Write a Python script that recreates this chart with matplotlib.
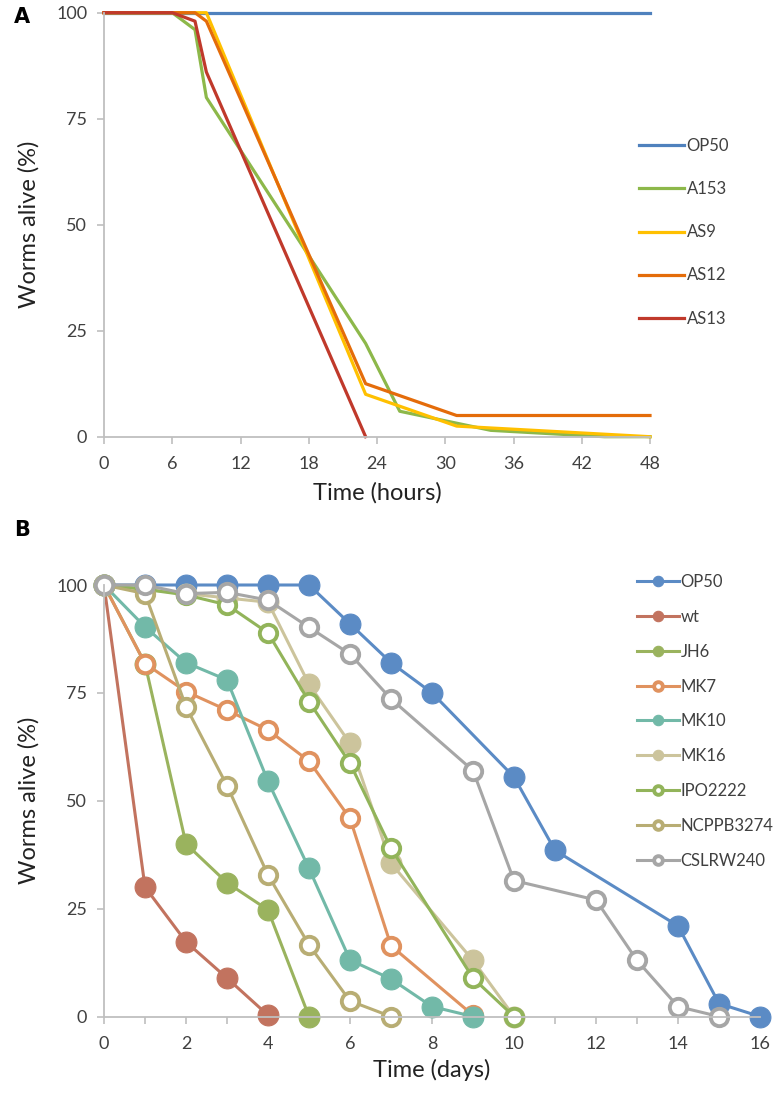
import matplotlib
matplotlib.use("Agg")
import matplotlib.pyplot as plt

plt.rcParams['font.family'] = ['Lato', 'DejaVu Sans']

# ---- panel A data (hours) ----
a_names = ["OP50", "A153", "AS9", "AS12", "AS13"]
a_t = [
    [0, 48],
    [0, 6, 8, 9, 23, 26, 34, 44, 48],
    [0, 8, 9, 23, 31, 48],
    [0, 6, 8, 9, 23, 31, 48],
    [0, 6, 8, 9, 23],
]
a_y = [
    [100, 100],
    [100, 100, 96, 80, 22, 6, 1.5, 0, 0],
    [100, 100, 100, 10, 2.5, 0],
    [100, 100, 100, 98, 12.5, 5, 5],
    [100, 100, 98, 86, 0],
]
a_colors = ["#4F81BD", "#8DB84A", "#FFC000", "#E46C0A", "#C0392B"]

# ---- panel B data (days) ----
b_names = ["OP50", "wt", "JH6", "MK7", "MK10", "MK16", "IPO2222", "NCPPB3274", "CSLRW240"]
b_t = [
    [0, 1, 2, 3, 4, 5, 6, 7, 8, 10, 11, 14, 15, 16],
    [0, 1, 2, 3, 4],
    [0, 1, 2, 3, 4, 5],
    [0, 1, 2, 3, 4, 5, 6, 7, 9],
    [0, 1, 2, 3, 4, 5, 6, 7, 8, 9],
    [0, 1, 2, 3, 4, 5, 6, 7, 9, 10],
    [0, 1, 2, 3, 4, 5, 6, 7, 9, 10],
    [0, 1, 2, 3, 4, 5, 6, 7],
    [0, 1, 2, 3, 4, 5, 6, 7, 9, 10, 12, 13, 14, 15],
]
b_y = [
    [100, 100, 100, 100, 100, 100, 91, 82, 75, 55.5, 38.5, 21, 3, 0],
    [100, 30, 17.3, 8.9, 0.3],
    [100, 81.8, 40, 31, 24.7, 0],
    [100, 81.8, 75.3, 71, 66.4, 59.2, 45.9, 16.4, 0.3],
    [100, 90.3, 82, 78, 54.5, 34.3, 13.1, 8.7, 2.3, 0],
    [100, 99, 98, 97, 96, 77, 63.3, 35.5, 13, 0],
    [100, 99, 97.7, 95.4, 88.9, 73, 58.7, 39, 8.9, 0],
    [100, 98, 71.8, 53.5, 32.8, 16.6, 3.6, 0],
    [100, 100, 98, 98.3, 96.5, 90.2, 84, 73.6, 57, 31.5, 27, 13, 2.3, 0],
]
b_colors = ["#5B8BC5", "#C2735F", "#9AB35E", "#E0925F", "#72B9A8",
            "#CCC49C", "#92B45A", "#B8AD74", "#A6A6A6"]
b_open = [False, False, False, True, False, False, True, True, True]

W, H = 777, 1101
fig = plt.figure(figsize=(W / 100, H / 100), dpi=100)


def rect(x0, y0, x1, y1):
    return [x0 / W, 1 - y1 / H, (x1 - x0) / W, (y1 - y0) / H]


axis_col = "#BFBFBF"
text_col = "#404040"


def style(ax):
    for s in ("top", "right"):
        ax.spines[s].set_visible(False)
    for s in ("left", "bottom"):
        ax.spines[s].set_color(axis_col)
        ax.spines[s].set_linewidth(1.3)
    ax.tick_params(colors=axis_col, labelcolor=text_col, labelsize=13,
                   length=5, width=1.2, direction="out")
    ax.tick_params(axis="y", pad=7)
    ax.tick_params(axis="x", pad=9)
    ax.set_ylim(0, 100)
    ax.set_yticks([0, 25, 50, 75, 100])


# Panel A
axA = fig.add_axes(rect(104, 12.7, 650, 436.7))
for name, t, y, c in zip(a_names, a_t, a_y, a_colors):
    axA.plot(t, y, color=c, lw=2.3, label=name, clip_on=False)
style(axA)
axA.set_xlim(0, 48)
axA.set_xticks(range(0, 49, 6))
axA.set_xlabel("Time (hours)", fontsize=17, color="#222222", labelpad=7)
axA.set_ylabel("Worms alive (%)", fontsize=17, color="#222222", labelpad=12)
axA.legend(loc="upper left", bbox_to_anchor=(624 / W, 1 - 123 / H),
           bbox_transform=fig.transFigure, frameon=False, fontsize=12,
           handlelength=2.7, handletextpad=0.15, labelspacing=1.63,
           labelcolor=text_col)

# Panel B
axB = fig.add_axes(rect(104, 585, 760, 1016.5))
for name, t, y, c, op in zip(b_names, b_t, b_y, b_colors, b_open):
    if op:
        axB.plot(t, y, color=c, lw=2.2, marker="o", ms=12.5, mfc="white",
                 mec=c, mew=2.8, label=name, clip_on=False)
    else:
        axB.plot(t, y, color=c, lw=2.2, marker="o", ms=15, mfc=c,
                 mec=c, mew=0.8, label=name, clip_on=False)
style(axB)
axB.set_xlim(0, 16)
axB.set_xticks(range(0, 17))
axB.set_xticklabels([str(i) if i % 2 == 0 else "" for i in range(17)])
axB.set_xlabel("Time (days)", fontsize=17, color="#222222", labelpad=5)
axB.set_ylabel("Worms alive (%)", fontsize=17, color="#222222", labelpad=12)
axB.legend(loc="upper left", bbox_to_anchor=(622 / W, 1 - 559 / H),
           bbox_transform=fig.transFigure, frameon=False, fontsize=12,
           handlelength=2.5, handletextpad=0.1, labelspacing=1.13,
           markerscale=0.5, labelcolor=text_col)

fig.text(22 / W, 1 - 17 / H, "A", fontsize=15, fontweight="bold",
         ha="center", va="center", family="DejaVu Sans")
fig.text(22 / W, 1 - 530 / H, "B", fontsize=15, fontweight="bold",
         ha="center", va="center", family="DejaVu Sans")

fig.savefig("out.png", dpi=100)
